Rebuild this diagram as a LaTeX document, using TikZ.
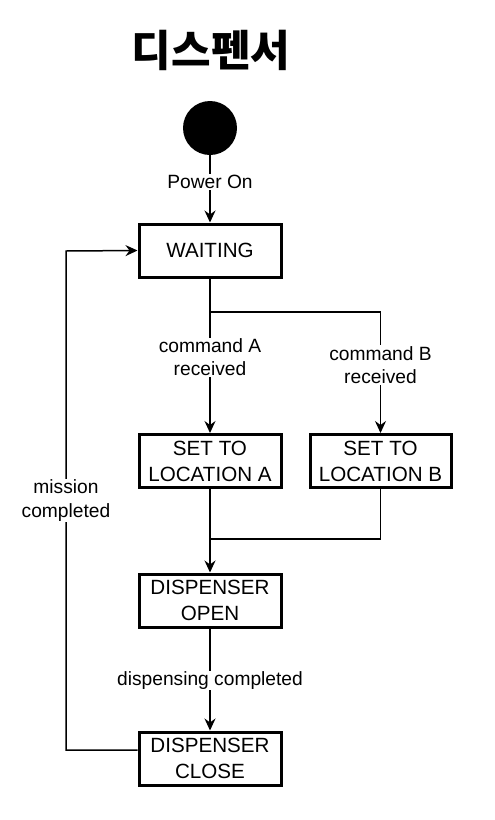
\documentclass[tikz,border=0pt]{standalone}
\usepackage{fontspec}
\setmainfont{Liberation Sans}
\newfontfamily\krfont{Noto Sans CJK KR}
\usetikzlibrary{arrows.meta}
\begin{document}
\begin{tikzpicture}[x=1pt,y=-1pt,
  statebox/.style={draw,line width=3pt,minimum width=142pt,minimum height=53pt,inner sep=0pt,align=center,font=\fontsize{20.6}{26}\selectfont},
  conn/.style={line width=1.5pt,-{Stealth[length=12pt,width=11pt,inset=4pt]}},
  plainconn/.style={line width=1.5pt},
  lbl/.style={fill=white,inner sep=1pt,align=center,font=\fontsize{19.2}{23.5}\selectfont}]
\useasboundingbox (0,0) rectangle (495,820);
\node[font=\krfont\bfseries\fontsize{43}{46}\selectfont] (title) at (211,50) {디스펜서};
\node[circle,fill=black,minimum size=54pt,inner sep=0pt] (start) at (210,128) {};
\node[statebox] (wait) at (210,250.5) {WAITING};
\node[statebox] (locA) at (210,461) {SET TO\\LOCATION A};
\node[statebox,minimum width=141pt] (locB) at (380.5,461) {SET TO\\LOCATION B};
\node[statebox] (open) at (210,600.5) {DISPENSER\\OPEN};
\node[statebox] (close) at (210,758.5) {DISPENSER\\CLOSE};
\coordinate (split) at (210,312);
\coordinate (merge) at (210,539);
\coordinate (lb) at (66,750);
\coordinate (lt) at (66,251);
\draw[conn] (start) -- node[lbl,pos=0.4] {Power On} (wait);
\draw[conn] (wait) -- node[lbl,pos=0.51] {command A\\received} (locA);
\draw[conn] (split) -| node[lbl,pos=0.72] {command B\\received} (locB);
\draw[conn] (locA) -- (open);
\draw[plainconn] (locB.south) |- (merge);
\draw[conn] (open) -- node[lbl,pos=0.51] {dispensing completed} (close);
\draw[conn] (close.west |- lb) -- (lb) -- node[lbl,pos=0.5] {mission\\completed} (lt) -- (wait.west);
\end{tikzpicture}
\end{document}
